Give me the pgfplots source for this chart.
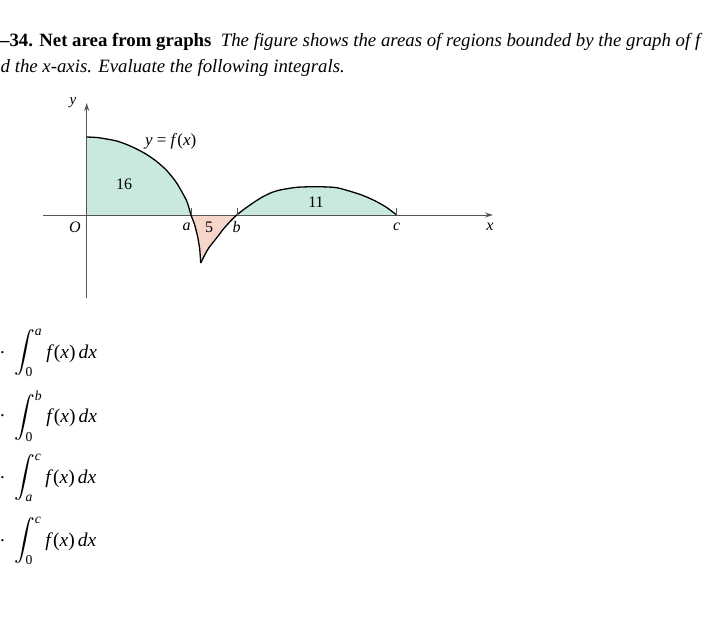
\documentclass[border=0pt]{standalone}
\usepackage{amsmath}
\usepackage{fontspec}
\setmainfont{Liberation Serif}
\usepackage{pgfplots}
\pgfplotsset{compat=1.18}
\usetikzlibrary{arrows.meta}
\definecolor{areagreen}{HTML}{C8E9DC}
\definecolor{areapink}{HTML}{F6D5CA}
\definecolor{axisgray}{HTML}{555555}
\begin{document}
\begin{tikzpicture}
\path[use as bounding box] (0pt,0pt) rectangle (725pt,-626pt);
% header text
\node[anchor=base west,inner sep=0pt,font=\fontsize{18.8}{22}\selectfont] at (0pt,-47pt)
 {\textbf{–34. Net area from graphs}\enspace\textit{The figure shows the areas of regions bounded by the graph of f}};
\node[anchor=base west,inner sep=0pt,font=\fontsize{18.8}{22}\selectfont] at (0.5pt,-72pt)
 {\textit{d the x-axis. Evaluate the following integrals.}};
% graph
\begin{axis}[
  at={(86.7pt,-215pt)}, anchor=origin,
  scale only axis, width=450pt, height=195pt,
  xmin=-43.7, xmax=406.3, ymin=-83, ymax=112,
  axis lines=middle,
  axis line style={axisgray, line width=0.9pt, -{Stealth[length=8pt,width=5pt]}},
  xtick=\empty, ytick=\empty,
  clip=false,
]
\addplot[fill=areagreen, draw=none] coordinates {
 (0,0) (0,78) (10,77.5) (20,76) (30,74) (40,70.5) (50,66) (60,60.5) (70,53.5)
 (80,44.5) (90,32) (100,14) (104.3,0)} -- cycle;
\addplot[fill=areapink, draw=none] coordinates {
 (104.3,0) (108,-10) (111,-22) (113,-34) (114,-48) (118,-40) (122,-33)
 (126.7,-27) (131,-21.5) (136.7,-14) (143,-7) (150,0)} -- cycle;
\addplot[fill=areagreen, draw=none] coordinates {
 (150,0) (157,5.5) (163.3,10) (170,14.5) (176.6,18.5) (185,22.5) (193.3,25)
 (210,27.7) (230,28.3) (250,27.3) (270,21.7) (280,18) (290,13.3) (300,7.5) (310,0)} -- cycle;
% re-draw axis over the fills
\draw[axisgray, line width=0.9pt] (axis cs:-43.7,0) -- (axis cs:400,0);
\draw[axisgray, line width=0.9pt] (axis cs:0,-83) -- (axis cs:0,105);
% curve
\addplot[black, line width=1.3pt, smooth, tension=0.4] coordinates {
 (0,78) (10,77.5) (20,76) (30,74) (40,70.5) (50,66) (60,60.5) (70,53.5)
 (80,44.5) (90,32) (100,14) (104.3,0) (108,-10) (111,-22) (113,-34) (114,-48)};
\addplot[black, line width=1.3pt, smooth, tension=0.4] coordinates {
 (114,-48) (118,-40) (122,-33) (126.7,-27) (131,-21.5) (136.7,-14) (143,-7) (150,0)
 (157,5.5) (163.3,10) (170,14.5) (176.6,18.5) (185,22.5) (193.3,25)
 (210,27.7) (230,28.3) (250,27.3) (270,21.7) (280,18) (290,13.3) (300,7.5) (310,0)};
% ticks at a, b, c
\draw[axisgray, line width=0.7pt] (axis cs:105,0) -- (axis cs:105,7);
\draw[axisgray, line width=0.7pt] (axis cs:150.3,0) -- (axis cs:150.3,7);
\draw[axisgray, line width=0.7pt] (axis cs:310,0) -- (axis cs:310,7);
% labels
\node[font=\fontsize{16}{18}\selectfont\itshape] at (axis cs:-11.7,-12) {O};
\node[font=\fontsize{16}{18}\selectfont\itshape] at (axis cs:100,-12) {a};
\node[font=\fontsize{16}{18}\selectfont] at (axis cs:122.3,-12) {5};
\node[font=\fontsize{16}{18}\selectfont\itshape] at (axis cs:150,-12) {b};
\node[font=\fontsize{16}{18}\selectfont\itshape] at (axis cs:310,-12) {c};
\node[font=\fontsize{16}{18}\selectfont\itshape] at (axis cs:403.3,-12) {x};
\node[font=\fontsize{15}{18}\selectfont\itshape] at (axis cs:-13.7,112) {y};
\node[font=\fontsize{17}{18}\selectfont] at (axis cs:84,73.3) {\textit{y} = \textit{f}(\textit{x})};
\node[font=\fontsize{16}{18}\selectfont] at (axis cs:37.3,31) {16};
\node[font=\fontsize{16}{18}\selectfont] at (axis cs:229.3,12.3) {11};
\end{axis}
% integrals
\foreach \yy/\lo/\hi in {353/0/a, 416/0/b, 478/\textit{a}/c, 541/0/c}{
  \node[anchor=center,inner sep=0pt,font=\fontsize{19}{22}\selectfont] at (2.5pt,-\yy pt) {.};
  \node[anchor=west,inner sep=0pt,font=\fontsize{19.5}{22}\selectfont] at (14pt,-\yy pt)
   {$\displaystyle\int_{\text{\lo}}^{\text{\itshape\hi}}$\hspace{4pt}\textit{f}(\textit{x})\hspace{3pt}\textit{dx}};
}
\end{tikzpicture}
\end{document}
